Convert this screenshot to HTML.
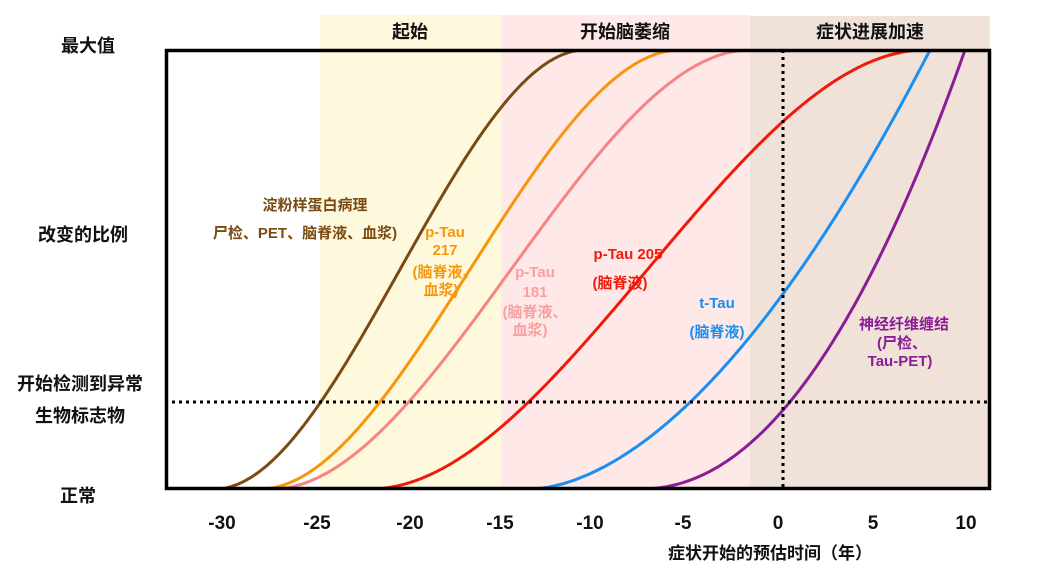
<!DOCTYPE html>
<html><head><meta charset="utf-8"><style>
body{margin:0;background:#fff;}
svg text{font-family:"Liberation Sans","Noto Sans CJK SC",sans-serif;font-weight:bold;}
</style></head><body>
<svg width="1050" height="577" viewBox="0 0 1050 577" xmlns="http://www.w3.org/2000/svg">
<defs><clipPath id="c"><rect x="166" y="50" width="823" height="439"/></clipPath></defs>
<rect x="320" y="15" width="181" height="474" fill="#fef9dc"/>
<rect x="501" y="15" width="249" height="474" fill="#fee8e8"/>
<rect x="750" y="16" width="240" height="473" fill="#f0e2d9"/>
<text x="410" y="38" font-size="18" text-anchor="middle" fill="#111">起始</text>
<text x="625" y="38" font-size="18" text-anchor="middle" fill="#111">开始脑萎缩</text>
<text x="870" y="38" font-size="18" text-anchor="middle" fill="#111">症状进展加速</text>
<g id="curves" fill="none" stroke-width="3" clip-path="url(#c)"></g>
<line x1="165" y1="402" x2="990" y2="402" stroke="#000" stroke-width="3" stroke-dasharray="3,4"/>
<line x1="783" y1="50" x2="783" y2="489" stroke="#000" stroke-width="3" stroke-dasharray="3,4"/>
<rect x="166.5" y="50.5" width="823" height="438" fill="none" stroke="#000" stroke-width="3.5"/>
<g font-size="18" fill="#111" text-anchor="middle">
<text x="88" y="52">最大值</text>
<text x="83" y="241">改变的比例</text>
<text x="80" y="390">开始检测到异常</text>
<text x="80" y="422">生物标志物</text>
<text x="78" y="502">正常</text>
</g>
<g font-size="19" fill="#111" text-anchor="middle">
<text x="222" y="529">-30</text><text x="317" y="529">-25</text><text x="410" y="529">-20</text>
<text x="500" y="529">-15</text><text x="590" y="529">-10</text><text x="683" y="529">-5</text>
<text x="778" y="529">0</text><text x="873" y="529">5</text><text x="966" y="529">10</text>
</g>
<text x="770" y="559" font-size="17" text-anchor="middle" fill="#111">症状开始的预估时间（年）</text>
<g font-size="15" text-anchor="middle">
<text x="315" y="210" fill="#7b4a12">淀粉样蛋白病理</text>
<text x="305" y="238" fill="#7b4a12">尸检、PET、脑脊液、血浆)</text>
<text x="445" y="237" fill="#f7960c">p-Tau</text>
<text x="445" y="255" fill="#f7960c">217</text>
<text x="445" y="277" fill="#f7960c">(脑脊液、</text>
<text x="441" y="295" fill="#f7960c">血浆)</text>
<text x="535" y="277" fill="#f8a0a0">p-Tau</text>
<text x="535" y="297" fill="#f8a0a0">181</text>
<text x="535" y="317" fill="#f8a0a0">(脑脊液、</text>
<text x="530" y="335" fill="#f8a0a0">血浆)</text>
<text x="628" y="259" fill="#f01a0a">p-Tau 205</text>
<text x="620" y="288" fill="#f01a0a">(脑脊液)</text>
<text x="717" y="308" fill="#1a8ff0">t-Tau</text>
<text x="717" y="337" fill="#1a8ff0">(脑脊液)</text>
<text x="904" y="329" fill="#8a1d95">神经纤维缠结</text>
<text x="902" y="348" fill="#8a1d95">(尸检、</text>
<text x="900" y="366" fill="#8a1d95">Tau-PET)</text>
</g>
<script>
var g=document.getElementById('curves');
function ss(x,a,b){var t=Math.max(0,Math.min(1,(x-a)/(b-a)));return t*t*(3-2*t);}
function pw(x,a,b,p){var t=Math.max(0,(x-a)/(b-a));return Math.pow(t,p);}
var cs=[[function(x){return ss(x,215,585)},'#7b4a12'],
[function(x){return ss(x,260,680)},'#f7960c'],
[function(x){return ss(x,272,750)},'#f88383'],
[function(x){return ss(x,370,925)},'#f01a0a'],
[function(x){return pw(x,530,930,1.77)},'#1a8ff0'],
[function(x){return pw(x,640,965,2.09)},'#8a1d95']];
cs.forEach(function(c){var d='';for(var x=166;x<=1000;x+=2){var y=489-439*c[0](x);d+=(d?'L':'M')+x+','+y.toFixed(1);}
var p=document.createElementNS('http://www.w3.org/2000/svg','path');p.setAttribute('d',d);p.setAttribute('stroke',c[1]);g.appendChild(p);});
</script>
</svg>
</body></html>
